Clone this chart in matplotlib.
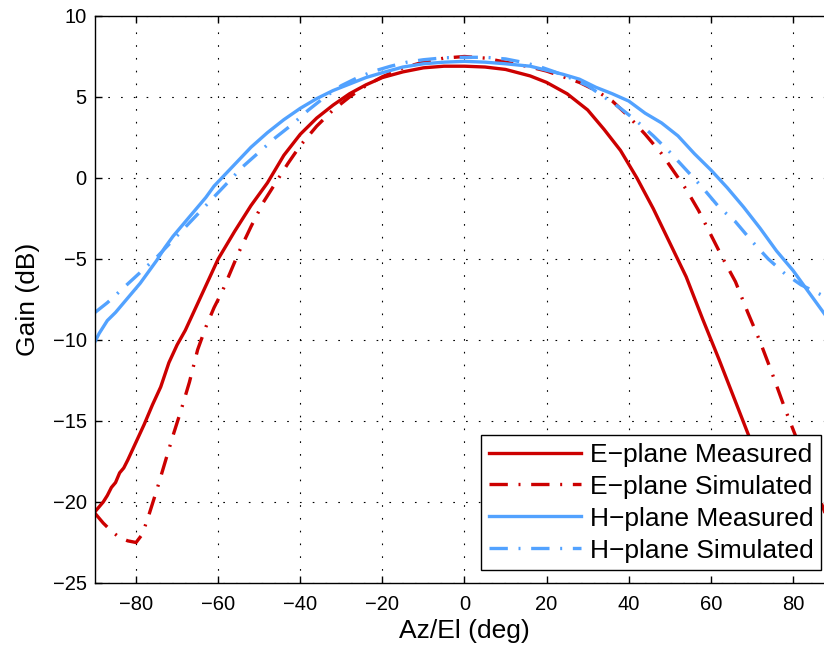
import numpy as np
import matplotlib
matplotlib.use("Agg")
import matplotlib.pyplot as plt

plt.rcParams['font.family'] = ['Liberation Sans', 'DejaVu Sans']

# E-plane measured (solid red)
e_meas_x = [-90, -89, -88, -87, -86, -85, -84, -83, -82, -80, -78, -76, -74, -72, -70, -68,
            -66, -64, -62, -60, -56, -52, -48, -44, -40, -36, -32, -28, -24, -20, -15, -10,
            -5, 0, 5, 10, 16, 20, 25, 30, 34, 38, 42, 46, 50, 54, 58, 62, 66, 70, 74, 78]
e_meas_y = [-20.6, -20.3, -20.0, -19.6, -19.1, -18.8, -18.2, -17.9, -17.4, -16.3, -15.2, -14.0,
            -12.9, -11.4, -10.3, -9.4, -8.3, -7.2, -6.1, -5.0, -3.3, -1.7, -0.3, 1.4, 2.7,
            3.7, 4.5, 5.2, 5.75, 6.2, 6.55, 6.8, 6.9, 6.9, 6.85, 6.7, 6.3, 5.9, 5.2, 4.2,
            3.0, 1.7, 0.0, -1.9, -4.0, -6.1, -8.7, -11.2, -13.8, -16.4, -19.0, -21.6]

# E-plane simulated (dash-dot red)
e_sim_x = [-90, -88, -86, -84, -82, -80, -78.5, -77, -75, -73, -71, -69, -67, -65, -63, -61,
           -59, -57, -55, -52, -49, -46, -43, -40, -36, -32, -28, -24, -20, -15, -10, -5,
           0, 5, 10, 16, 20, 24, 28, 32, 36, 40, 44, 48, 51, 54, 57, 60, 63, 66, 69, 72,
           75, 78, 80, 84, 88, 90]
e_sim_y = [-20.7, -21.3, -21.8, -22.2, -22.4, -22.5, -22.0, -20.9, -19.3, -17.6, -15.9,
           -14.3, -12.6, -10.6, -9.2, -8.0, -7.0, -5.8, -4.6, -3.0, -1.5, -0.3, 0.9, 2.0,
           3.2, 4.2, 5.0, 5.7, 6.25, 6.8, 7.15, 7.4, 7.5, 7.4, 7.15, 6.85, 6.6, 6.25, 5.9,
           5.4, 4.75, 3.8, 2.7, 1.5, 0.4, -0.7, -2.0, -3.5, -5.0, -6.4, -8.3, -10.1, -12.1,
           -14.2, -15.5, -18.1, -20.8, -22.0]

# H-plane measured (solid blue)
h_meas_x = [-90, -89, -88, -87, -85, -83, -81, -79, -77, -75, -73, -71, -69, -67, -65, -63,
            -61, -58, -55, -52, -48, -44, -40, -36, -32, -28, -24, -20, -15, -10, -5, 0,
            5, 10, 16, 20, 24, 28, 32, 36, 40, 44, 48, 52, 56, 60, 64, 68, 72, 76, 80,
            84, 88, 90]
h_meas_y = [-10.1, -9.6, -9.2, -8.8, -8.3, -7.7, -7.1, -6.5, -5.8, -5.1, -4.3, -3.6, -3.0,
            -2.4, -1.8, -1.2, -0.5, 0.3, 1.1, 1.9, 2.8, 3.6, 4.3, 4.9, 5.4, 5.8, 6.2, 6.5,
            6.85, 7.05, 7.15, 7.2, 7.15, 7.05, 6.9, 6.65, 6.4, 6.1, 5.6, 5.2, 4.75, 4.0,
            3.4, 2.6, 1.5, 0.5, -0.6, -1.8, -3.1, -4.5, -5.7, -7.1, -8.5, -9.2]

# H-plane simulated (dash-dot blue)
h_sim_x = [-90, -87, -84, -81, -78, -75, -72, -69, -66, -63, -60, -57, -54, -50, -46, -42,
           -38, -34, -30, -26, -22, -18, -14, -10, -5, 0, 5, 10, 14, 18, 22, 26, 30, 34,
           38, 42, 46, 50, 54, 58, 62, 66, 70, 74, 78, 82, 86, 90]
h_sim_y = [-8.3, -7.7, -7.0, -6.3, -5.6, -4.9, -4.1, -3.3, -2.5, -1.7, -0.9, -0.1, 0.7,
           1.6, 2.5, 3.3, 4.2, 5.0, 5.7, 6.2, 6.6, 6.9, 7.15, 7.3, 7.42, 7.45, 7.45, 7.35,
           7.15, 6.9, 6.55, 6.15, 5.7, 5.0, 4.3, 3.5, 2.6, 1.6, 0.5, -0.6, -1.8, -2.7,
           -3.9, -5.0, -5.9, -6.6, -7.1, -7.6]

labels = ["E\u2212plane Measured", "E\u2212plane Simulated",
          "H\u2212plane Measured", "H\u2212plane Simulated"]

red = '#cc0000'
blue = '#52a2ff'
dashdot = (0, (5.5, 3.2, 0.6, 3.2))

fig = plt.figure(figsize=(8.24, 6.5), dpi=100)
ax = fig.add_axes([0.1153, 0.1031, 0.8968, 0.8723])

ax.plot(e_meas_x, e_meas_y, color=red, lw=2.4, label=labels[0])
ax.plot(e_sim_x, e_sim_y, color=red, lw=2.4, linestyle=dashdot, label=labels[1])
ax.plot(h_meas_x, h_meas_y, color=blue, lw=2.4, label=labels[2])
ax.plot(h_sim_x, h_sim_y, color=blue, lw=2.4, linestyle=dashdot, label=labels[3])

ax.set_xlim(-90, 90)
ax.set_ylim(-25, 10)
ax.set_xticks(np.arange(-80, 81, 20))
ax.set_yticks(np.arange(-25, 11, 5))
ax.grid(True, color='black', linestyle=(0, (1.5, 10)), linewidth=0.8)
ax.tick_params(direction='in', length=5, width=1, top=True, right=True, labelsize=14.5)
ax.tick_params(axis='x', pad=9)
ax.tick_params(axis='y', pad=6)
for s in ax.spines.values():
    s.set_linewidth(1)

ax.set_xlabel("Az/El (deg)", fontsize=19, labelpad=3)
ax.set_ylabel("Gain (dB)", fontsize=19, labelpad=9)

leg = ax.legend(loc='lower right', bbox_to_anchor=(0.983, 0.023), borderaxespad=0,
                fontsize=19, fancybox=False, framealpha=1, edgecolor='black',
                handlelength=3.5, handletextpad=0.35, labelspacing=0.3,
                borderpad=0.28)
leg.get_frame().set_linewidth(1)

fig.savefig("out.png", dpi=100)
